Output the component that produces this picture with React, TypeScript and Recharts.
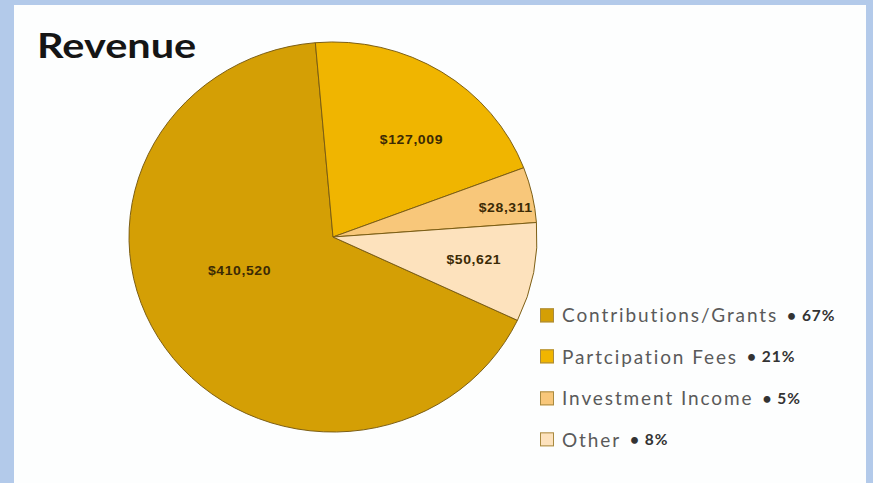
import { PieChart, Pie, Cell, Legend } from 'recharts';

// Revenue breakdown
const categories = ['Contributions/Grants', 'Participation Fees', 'Investment Income', 'Other'];
const legendNames = ['Contributions/Grants', 'Partcipation Fees', 'Investment Income', 'Other'];
const amounts = [410520, 127009, 28311, 50621];
const amountLabels = ['$410,520', '$127,009', '$28,311', '$50,621'];
const shareLabels = ['67%', '21%', '5%', '8%'];

const COLORS = ['#d49f05', '#f0b500', '#f8c77a', '#fde2bd'];
// label placement: fraction of radius + small angle tweak (deg)
const LABEL_R = [0.49, 0.63, 0.86, 0.7];
const LABEL_ROT = [-14, -5.5, -2.5, 1];

// the source picture is a little wider than tall
const SQUASH = 0.956;

const data = categories.map((name, i) => ({
    name,
    legend: legendNames[i],
    value: amounts[i],
    label: amountLabels[i],
    share: shareLabels[i],
}));

const RAD = Math.PI / 180;

const renderLabel = (props: any) => {
    const { cx, cy, midAngle, outerRadius, index } = props;
    const a = (midAngle + LABEL_ROT[index]) * RAD;
    const r = outerRadius * LABEL_R[index];
    const x = cx + r * Math.cos(-a);
    const y = cy + r * Math.sin(-a);
    return (
        <text
            x={x}
            y={y}
            textAnchor="middle"
            dominantBaseline="central"
            fill="#3b2a05"
            fontFamily="'Liberation Sans Narrow', 'Liberation Sans', Arial, sans-serif"
            fontWeight="bold"
            fontSize={14}
            letterSpacing={0.6}
        >
            {data[index].label}
        </text>
    );
};

const renderLegend = () => (
    <div style={{ fontFamily: 'Lato, sans-serif', transform: `scaleY(${1 / SQUASH})`, transformOrigin: 'left top' }}>
        {data.map((d, i) => (
            <div key={d.name} style={{ display: 'flex', alignItems: 'center', height: 41.5 }}>
                <span
                    style={{
                        display: 'inline-block',
                        width: 12,
                        height: 12,
                        background: COLORS[i],
                        border: '1px solid #a88a40',
                        marginRight: 8,
                    }}
                />
                <span style={{ fontSize: 19, color: '#5a5a5a', letterSpacing: 1.9 }}>{d.legend}</span>
                <span style={{ fontSize: 15.5, fontWeight: 'bold', color: '#333', marginLeft: 9, letterSpacing: 1 }}>
                    • {d.share}
                </span>
            </div>
        ))}
    </div>
);

export default function App() {
    return (
        <div style={{ position: 'fixed', left: 0, top: 0, width: 873, height: 483, background: '#b3caea', overflow: 'hidden' }}>
            <div style={{ position: 'absolute', left: 14, top: 5, width: 852, height: 480, background: '#fdfefe' }} />
            <div
                style={{
                    position: 'absolute',
                    left: 37,
                    top: 24,
                    fontFamily: 'Lato, sans-serif',
                    fontWeight: 'bold',
                    fontSize: 34,
                    color: '#151515',
                    transform: 'scaleX(1.22)',
                    transformOrigin: 'left top',
                }}
            >
                Revenue
            </div>
            <div
                style={{
                    position: 'absolute',
                    left: 0,
                    top: 0,
                    transform: `scaleY(${SQUASH})`,
                    transformOrigin: '0 237px',
                }}
            >
                <PieChart width={873} height={483} margin={{ top: 0, right: 0, bottom: 0, left: 0 }}>
                    <Pie
                        data={data}
                        dataKey="value"
                        nameKey="name"
                        cx={333}
                        cy={237}
                        outerRadius={204}
                        startAngle={334.7}
                        endAngle={-25.3}
                        stroke="#7a5c12"
                        strokeWidth={1}
                        label={renderLabel}
                        labelLine={false}
                        isAnimationActive={false}
                    >
                        {data.map((d, i) => (
                            <Cell key={d.name} fill={COLORS[i]} />
                        ))}
                    </Pie>
                    <Legend
                        layout="vertical"
                        content={renderLegend}
                        wrapperStyle={{ position: 'absolute', left: 540, top: 297, width: 330 }}
                    />
                </PieChart>
            </div>
        </div>
    );
}
